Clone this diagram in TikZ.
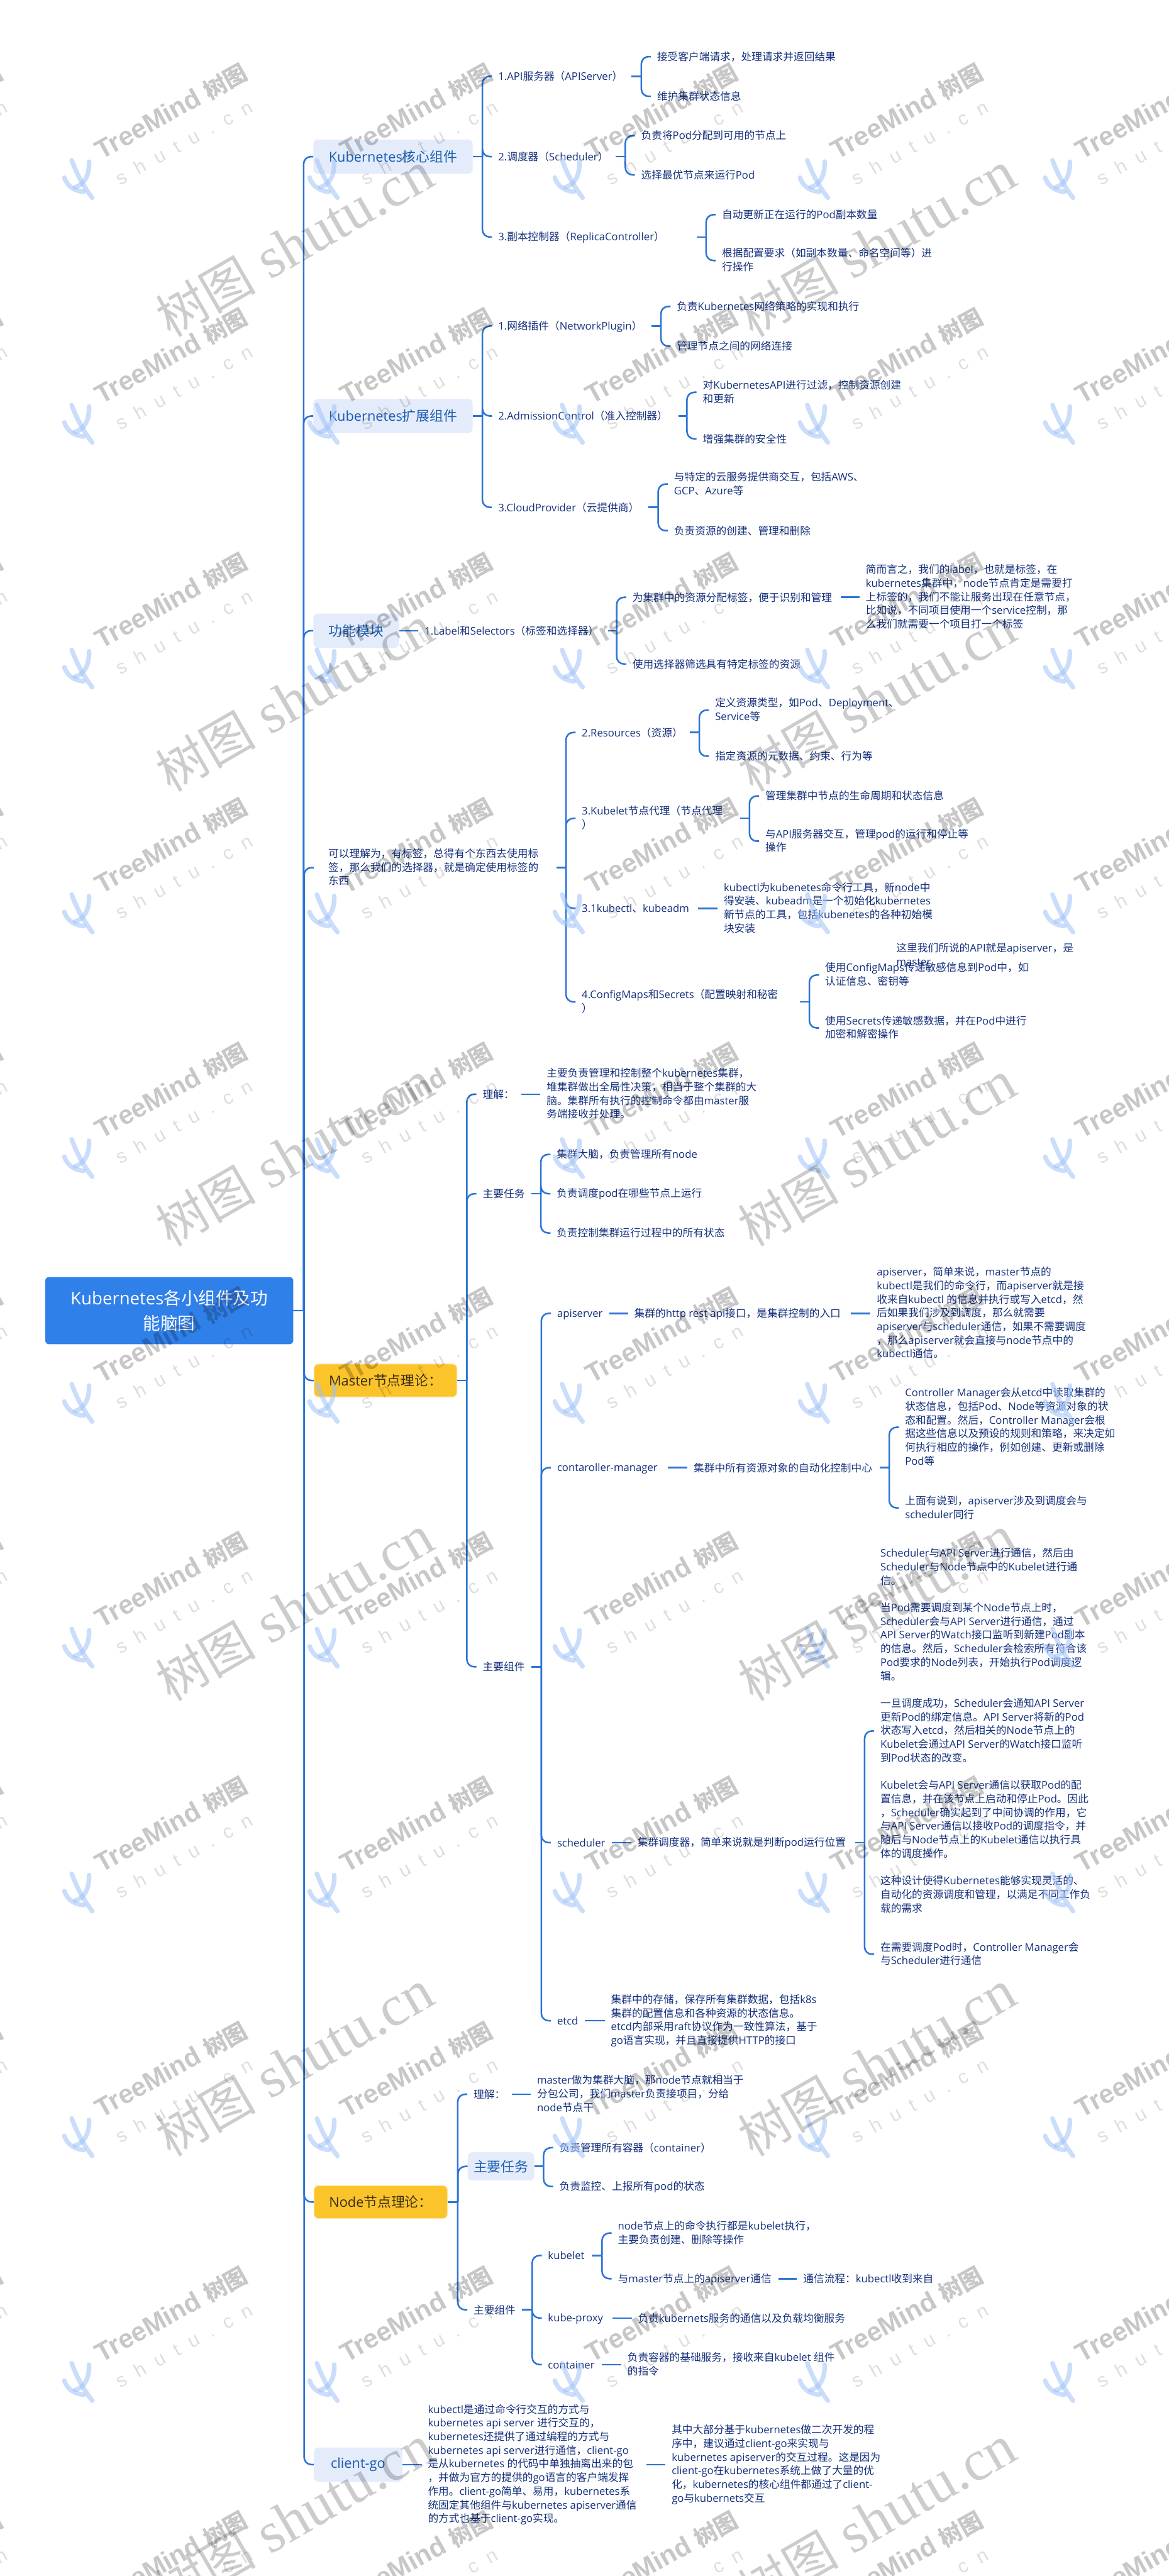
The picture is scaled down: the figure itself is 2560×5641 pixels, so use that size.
\documentclass[tikz,border=0pt]{standalone}
\usepackage{fontspec}
\setmainfont{Open Sans}
\newfontfamily\cjkf{Noto Sans CJK SC}
\newfontfamily\wmb{Liberation Sans}
\newfontfamily\wms{Liberation Sans}[LetterSpace=60]
\newfontfamily\wmbig{Liberation Serif}
\XeTeXinterchartokenstate=1
\newXeTeXintercharclass\cjkclass
\newcount\myc
\myc="4E00 \loop\ifnum\myc<"A000 \XeTeXcharclass\myc=\cjkclass \advance\myc by 1 \repeat
\myc="3000 \loop\ifnum\myc<"3040 \XeTeXcharclass\myc=\cjkclass \advance\myc by 1 \repeat
\myc="FF00 \loop\ifnum\myc<"FFF0 \XeTeXcharclass\myc=\cjkclass \advance\myc by 1 \repeat
\XeTeXinterchartoks 0 \cjkclass={\begingroup\cjkf}
\XeTeXinterchartoks 4095 \cjkclass={\begingroup\cjkf}
\XeTeXinterchartoks \cjkclass 0={\endgroup}
\XeTeXinterchartoks \cjkclass 4095={\endgroup}
\definecolor{linec}{HTML}{2B74D6}
\definecolor{txtb}{HTML}{14307C}
\definecolor{boxt}{HTML}{1A5CB0}
\definecolor{boxl}{HTML}{E4ECFC}
\definecolor{rootb}{HTML}{3080EA}
\definecolor{yel}{HTML}{FCC42B}
\definecolor{yelt}{HTML}{3A2F12}
\definecolor{cact}{HTML}{9FC2F8}
\def\stt{\rule[-4.3pt]{0pt}{26pt}}
\tikzset{
  conn/.style={draw=linec,line width=3.5pt},
  tx/.style={anchor=west,inner xsep=13.5pt,inner ysep=0pt,align=left,text=txtb,
    font=\fontsize{23}{29.9}\selectfont,execute at begin node=\stt,execute at end node=\stt},
  lbox/.style={anchor=west,fill=boxl,rounded corners=10pt,inner sep=0pt,text=boxt,align=center,
    font=\fontsize{30}{36}\selectfont},
  ybox/.style={anchor=west,fill=yel,draw=yel!45!white,line width=1.5pt,rounded corners=10pt,inner sep=0pt,text=yelt,align=center,
    font=\fontsize{30}{36}\selectfont},
  rootbox/.style={anchor=west,fill=rootb,rounded corners=8pt,inner sep=0pt,text=white,align=center,
    font=\fontsize{38}{54}\selectfont},
  wmt/.style={anchor=center,inner sep=0pt,text=black,text opacity=.22,rotate=29,font=\fontsize{58}{60}\selectfont\wmb\bfseries},
  wmz/.style={anchor=center,inner sep=0pt,text=black,text opacity=.13,rotate=29,font=\fontsize{42}{44}\selectfont\wms},
  wmg/.style={anchor=center,inner sep=0pt,text=black,text opacity=.2,rotate=30,font=\fontsize{126}{130}\selectfont\wmbig},
  cactus/.style={draw=cact,draw opacity=.55,line width=10pt,line cap=round}
}
\newcommand\nd[6]{%
  \ifx\relax#4\relax
    \node[tx] (#1) at ({#2-13.5},#3) {#5#6};%
  \else
    \pgfmathsetmacro\ww{#4-#2-13.5}%
    \node[tx] (#1) at ({#2-13.5},#3) {\makebox[\ww pt][l]{#5}#6};%
  \fi}
\newcommand\forkc[2]{%
  \path (#2.west) ++(-21,0) coordinate (ff);
  \draw[conn] (#1.east) -- (ff |- #1.east);
  \draw[conn,rounded corners=16pt] (ff |- #1.east) -- (ff) -- (#2.west);}
\newcommand\linkc[2]{\draw[conn] (#1.east) -- (#2.west);}
\begin{document}
\begin{tikzpicture}[x=1pt,y=-1pt]
\useasboundingbox (0,0) rectangle (2560,5641);
\fill[white] (0,0) rectangle (2560,5641);
% root and first level
\node[rootbox,minimum width=543pt,minimum height=147pt] (root) at (99,2870) {Kubernetes各小组件及功\\能脑图};
\node[lbox,minimum width=349pt,minimum height=75pt] (A) at (686,343) {Kubernetes核心组件};
\node[lbox,minimum width=349pt,minimum height=75pt] (B) at (686,911) {Kubernetes扩展组件};
\node[lbox,minimum width=188pt,minimum height=75pt] (C) at (686,1381) {功能模块};
\node[tx,inner xsep=32pt] (D) at (687,1900) {\makebox[467pt][l]{可以理解为，有标签，总得有个东西去使用标}\\签，那么我们的选择器，就是确定使用标签的\\东西};
\node[ybox,minimum width=313pt,minimum height=72pt] (E) at (687,3023) {Master节点理论：};
\node[ybox,minimum width=292pt,minimum height=72pt] (F) at (687,4822) {Node节点理论：};
\node[lbox,minimum width=194pt,minimum height=75pt] (G) at (687,5397) {client-go};
% A
\nd{a1}{1091}{167}{1382}{1.API服务器（APIServer）}{}
\nd{a11}{1439}{124}{}{接受客户端请求，处理请求并返回结果}{}
\nd{a12}{1439}{211}{}{维护集群状态信息}{}
\nd{a2}{1091}{343}{1348}{2.调度器（Scheduler）}{}
\nd{a21}{1404}{297}{}{负责将Pod分配到可用的节点上}{}
\nd{a22}{1404}{383}{}{选择最优节点来运行Pod}{}
\nd{a3}{1091}{519}{1526}{3.副本控制器（ReplicaController）}{}
\nd{a31}{1581}{470}{}{自动更新正在运行的Pod副本数量}{}
\nd{a32}{1581}{570.5}{}{根据配置要求（如副本数量、命名空间等）进\\行操作}{}
% B
\nd{b1}{1091}{714}{1426}{1.网络插件（NetworkPlugin）}{}
\nd{b11}{1482}{671}{}{负责Kubernetes网络策略的实现和执行}{}
\nd{b12}{1482}{758}{}{管理节点之间的网络连接}{}
\nd{b2}{1091}{911}{1485}{2.AdmissionControl（准入控制器）}{}
\nd{b21}{1539}{859}{}{对KubernetesAPI进行过滤，控制资源创建\\和更新}{}
\nd{b22}{1539}{961}{}{增强集群的安全性}{}
\nd{b3}{1091}{1111}{1420}{3.CloudProvider（云提供商）}{}
\nd{b31}{1476}{1060}{}{与特定的云服务提供商交互，包括AWS、\\GCP、Azure等}{}
\nd{b32}{1476}{1162}{}{负责资源的创建、管理和删除}{}
% C
\nd{c1}{930}{1381}{1331}{1.Label和Selectors（标签和选择器）}{}
\nd{c11}{1385}{1308}{1841}{为集群中的资源分配标签，便于识别和管理}{}
\nd{c12}{1385}{1454}{}{使用选择器筛选具有特定标签的资源}{}
\nd{c111}{1896}{1308}{}{简而言之，我们的label，也就是标签，在\\kubernetes集群中，node节点肯定是需要打\\上标签的，我们不能让服务出现在任意节点，\\比如说，不同项目使用一个service控制，那\\么我们就需要一个项目打一个标签}{}
% D
\nd{d1}{1274}{1604}{1511}{2.Resources（资源）}{}
\nd{d11}{1566}{1555}{}{定义资源类型，如Pod、Deployment、\\Service等}{}
\nd{d12}{1566}{1656}{}{指定资源的元数据、约束、行为等}{}
\nd{d2}{1274}{1792}{1620}{3.Kubelet节点代理（节点代理}{\\）}
\nd{d21}{1676}{1743}{}{管理集群中节点的生命周期和状态信息}{}
\nd{d22}{1676}{1842}{}{与API服务器交互，管理pod的运行和停止等\\操作}{}
\nd{d3}{1274}{1989}{1528}{3.1kubectl、kubeadm}{}
\nd{d31}{1585}{1989}{}{kubectl为kubenetes命令行工具，新node中\\得安装、kubeadm是一个初始化kubernetes\\新节点的工具，包括kubenetes的各种初始模\\块安装}{}
\nd{d4}{1274}{2194}{1751}{4.ConfigMaps和Secrets（配置映射和秘密}{\\）}
\nd{d41}{1807}{2135}{}{使用ConfigMaps传递敏感信息到Pod中，如\\认证信息、密钥等}{}
\nd{d42}{1807}{2251}{}{使用Secrets传递敏感数据，并在Pod中进行\\加密和解密操作}{}
\nd{d5}{1963}{2092}{}{这里我们所说的API就是apiserver，是\\master}{}
% E
\nd{e1}{1057}{2396}{1141}{理解：}{}
\nd{e11}{1197}{2396}{}{主要负责管理和控制整个kubernetes集群，\\堆集群做出全局性决策，相当于整个集群的大\\脑。集群所有执行的控制命令都由master服\\务端接收并处理。}{}
\nd{e2}{1057}{2614}{1163}{主要任务}{}
\nd{e21}{1219}{2528}{}{集群大脑，负责管理所有node}{}
\nd{e22}{1219}{2614}{}{负责调度pod在哪些节点上运行}{}
\nd{e23}{1219}{2700}{}{负责控制集群运行过程中的所有状态}{}
\nd{e3}{1057}{3650}{1163}{主要组件}{}
\nd{e31}{1220}{2876}{1334}{apiserver}{}
\nd{e311}{1389}{2876}{1863}{集群的http rest api接口，是集群控制的入口}{}
\nd{e3111}{1920}{2876}{}{apiserver，简单来说，master节点的\\kubectl是我们的命令行，而apiserver就是接\\收来自kubectl 的信息并执行或写入etcd，然\\后如果我们涉及到调度，那么就需要\\apiserver与scheduler通信，如果不需要调度\\，那么apiserver就会直接与node节点中的\\kubectl通信。}{}
\nd{e32}{1220}{3214}{1462}{contaroller-manager}{}
\nd{e321}{1519}{3214}{1926}{集群中所有资源对象的自动化控制中心}{}
\nd{e3211}{1982}{3125.5}{}{Controller Manager会从etcd中读取集群的\\状态信息，包括Pod、Node等资源对象的状\\态和配置。然后，Controller Manager会根\\据这些信息以及预设的规则和策略，来决定如\\何执行相应的操作，例如创建、更新或删除\\Pod等}{}
\nd{e3212}{1982}{3302}{}{上面有说到，apiserver涉及到调度会与\\scheduler同行}{}
\nd{e33}{1220}{4035}{1340}{scheduler}{}
\nd{e331}{1396}{4035}{1872}{集群调度器，简单来说就是判断pod运行位置}{}
\nd{e3311}{1928}{3790.5}{}{Scheduler与API Server进行通信，然后由\\Scheduler与Node节点中的Kubelet进行通\\信。\\[29.9pt]当Pod需要调度到某个Node节点上时，\\Scheduler会与API Server进行通信，通过\\API Server的Watch接口监听到新建Pod副本\\的信息。然后，Scheduler会检索所有符合该\\Pod要求的Node列表，开始执行Pod调度逻\\辑。\\[29.9pt]一旦调度成功，Scheduler会通知API Server\\更新Pod的绑定信息。API Server将新的Pod\\状态写入etcd，然后相关的Node节点上的\\Kubelet会通过API Server的Watch接口监听\\到Pod状态的改变。\\[29.9pt]Kubelet会与API Server通信以获取Pod的配\\置信息，并在该节点上启动和停止Pod。因此\\，Scheduler确实起到了中间协调的作用，它\\与API Server通信以接收Pod的调度指令，并\\随后与Node节点上的Kubelet通信以执行具\\体的调度操作。\\[29.9pt]这种设计使得Kubernetes能够实现灵活的、\\自动化的资源调度和管理，以满足不同工作负\\载的需求}{}
\nd{e3312}{1928}{4279.5}{}{在需要调度Pod时，Controller Manager会\\与Scheduler进行通信}{}
\nd{e34}{1220}{4425}{1281}{etcd}{}
\nd{e341}{1338}{4425}{}{集群中的存储，保存所有集群数据，包括k8s\\集群的配置信息和各种资源的状态信息。\\etcd内部采用raft协议作为一致性算法，基于\\go语言实现，并且直接提供HTTP的接口}{}
% F
\nd{f1}{1037}{4586}{1120}{理解：}{}
\nd{f11}{1176}{4586}{}{master做为集群大脑，那node节点就相当于\\分包公司，我们master负责接项目，分给\\node节点干}{}
\node[lbox,minimum width=146pt,minimum height=62pt] (f2) at (1024,4744) {主要任务};
\nd{f21}{1225}{4703}{}{负责管理所有容器（container）}{}
\nd{f22}{1225}{4788}{}{负责监控、上报所有pod的状态}{}
\nd{f3}{1037}{5058}{1143}{主要组件}{}
\nd{f31}{1200}{4939}{1296}{kubelet}{}
\nd{f311}{1353}{4890}{}{node节点上的命令执行都是kubelet执行，\\主要负责创建、删除等操作}{}
\nd{f312}{1353}{4990}{1705}{与master节点上的apiserver通信}{}
\nd{f3121}{1759}{4990}{}{通信流程：kubectl收到来自}{}
\nd{f32}{1200}{5076}{1341}{kube-proxy}{}
\nd{f321}{1397}{5076}{}{负责kubernets服务的通信以及负载均衡服务}{}
\nd{f33}{1200}{5178}{1318}{container}{}
\nd{f331}{1374}{5178}{}{负责容器的基础服务，接收来自kubelet 组件\\的指令}{}
% G
\nd{g1}{937}{5397}{1415}{kubectl是通过命令行交互的方式与}{\\kubernetes api server 进行交互的，\\kubernetes还提供了通过编程的方式与\\kubernetes api server进行通信，client-go\\是从kubernetes 的代码中单独抽离出来的包\\，并做为官方的提供的go语言的客户端发挥\\作用。client-go简单、易用，kubernetes系\\统固定其他组件与kubernetes apiserver通信\\的方式也基于client-go实现。}
\nd{g11}{1471}{5397}{}{其中大部分基于kubernetes做二次开发的程\\序中，建议通过client-go来实现与\\kubernetes apiserver的交互过程。这是因为\\client-go在kubernetes系统上做了大量的优\\化，kubernetes的核心组件都通过了client-\\go与kubernets交互}{}
% connectors
\foreach \p/\c in {root/A,root/B,root/C,root/D,root/E,root/F,root/G,
  A/a1,A/a2,A/a3,a1/a11,a1/a12,a2/a21,a2/a22,a3/a31,a3/a32,
  B/b1,B/b2,B/b3,b1/b11,b1/b12,b2/b21,b2/b22,b3/b31,b3/b32,
  c1/c11,c1/c12,
  D/d1,D/d2,D/d3,D/d4,d1/d11,d1/d12,d2/d21,d2/d22,d4/d41,d4/d42,
  E/e1,E/e2,E/e3,e2/e21,e2/e22,e2/e23,e3/e31,e3/e32,e3/e33,e3/e34,
  e321/e3211,e321/e3212,e331/e3311,e331/e3312,
  F/f1,F/f2,F/f3,f2/f21,f2/f22,f3/f31,f3/f32,f3/f33,f31/f311,f31/f312}{\forkc{\p}{\c}}
\foreach \p/\c in {C/c1,c11/c111,d3/d31,e1/e11,e31/e311,e311/e3111,e32/e321,e33/e331,e34/e341,
  f1/f11,f312/f3121,f32/f321,f33/f331,G/g1,g1/g11}{\linkc{\p}{\c}}
% watermark tiles
\foreach \i in {-1,...,4}{\foreach \j in {0,...,10}{
  \pgfmathsetmacro\cx{170+537*\i}\pgfmathsetmacro\cy{392+536*\j}
  \begin{scope}[shift={(\cx,\cy)}]
    \draw[cactus] (32,41) .. controls (10,12) and (-2,-12) .. (-13,-41);
    \draw[cactus] (-29,-3) .. controls (-22,18) and (-5,26) .. (13,28);
    \draw[cactus] (25,-38) .. controls (26,-10) and (16,12) .. (-6,18);
    \node[wmt] (tm\i\j) at (205,-148) {TreeMind {\fontsize{50}{50}\selectfont 树图}};
    \node[wmz] (st\i\j) at (233,-80) {shutu.cn};
  \end{scope}
}}
\foreach \i in {0,1}{\foreach \j in {0,...,5}{
  \pgfmathsetmacro\gx{645+1276*\i}\pgfmathsetmacro\gy{535+996*\j}
  \node[wmg] (bg\i\j) at (\gx,\gy) {{\fontsize{110}{110}\selectfont 树图} shutu.cn};
}}
\end{tikzpicture}
\end{document}
